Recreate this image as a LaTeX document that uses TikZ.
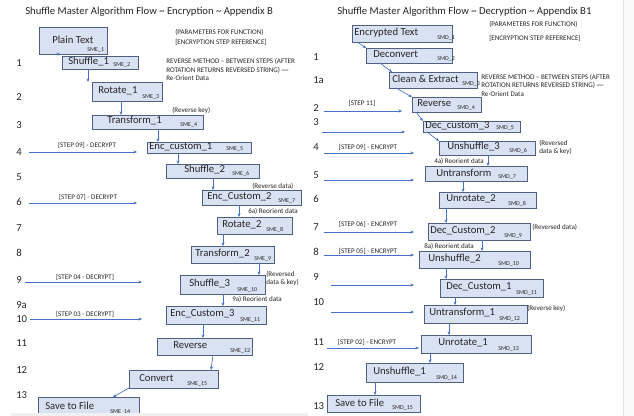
\documentclass[tikz,border=0pt]{standalone}
\usepackage{fontspec}
\setmainfont{Carlito}
\usetikzlibrary{arrows.meta}
\definecolor{boxfill}{HTML}{D9E2F3}
\definecolor{boxdraw}{HTML}{4F6080}
\definecolor{arrowc}{HTML}{4472C4}
\definecolor{txt}{HTML}{262626}
\newcommand\mybox[9]{%
  \node[box, minimum width=#4*0.75pt, minimum height=#5*0.75pt, anchor=north west] (#1) at (#2,#3) {};
  \node[lbl, anchor=west] (#1l) at (#7, #3+#5/2-1) {#6};
  \node[tag, anchor=base west] (#1t) at (#9, #3+#5-2.5) {#8};
}
\begin{document}
\begin{tikzpicture}[x=0.75pt,y=-0.75pt,
  box/.style={draw=boxdraw, fill=boxfill, line width=0.7pt, inner sep=0pt, outer sep=0pt},
  lbl/.style={inner sep=0pt, font=\fontsize{8}{9.6}\selectfont, text=txt},
  tag/.style={inner sep=0pt, font=\fontsize{4.5}{5}\selectfont, text=txt},
  note/.style={inner sep=0pt, font=\fontsize{5.3}{6.4}\selectfont, text=txt, align=left, anchor=west},
  slbl/.style={inner sep=0pt, font=\fontsize{5.3}{6.4}\selectfont, text=txt},
  num/.style={inner sep=0pt, font=\fontsize{8}{9.6}\selectfont, text=txt, anchor=west},
  ttl/.style={inner sep=0pt, font=\fontsize{8}{9.6}\selectfont, text=txt, anchor=west},
  arr/.style={draw=arrowc, line width=0.5pt, -{Stealth[length=2.6pt,width=2.2pt]}},
]
\useasboundingbox (0,0) rectangle (634,416);
\fill[white] (0,0) rectangle (634,416);

% titles
\node[ttl] (titleL) at (25,12) {Shuffle Master Algorithm Flow \textasciitilde{} Encryption \textasciitilde{} Appendix B};
\node[ttl] (titleR) at (337,12) {Shuffle Master Algorithm Flow \textasciitilde{} Decryption \textasciitilde{} Appendix B1};

% ---------------- left: encryption ----------------
\mybox{pt}{39}{27}{68}{27}{Plain Text}{52}{SME\_1}{87}
\mybox{s1}{62}{56}{76}{13}{Shuffle\_1}{68}{SME\_2}{113}
\mybox{r1}{92}{82}{70}{19}{Rotate\_1}{98}{SME\_3}{142}
\mybox{t1}{92}{115}{111}{14}{Transform\_1}{107}{SME\_4}{180}
\mybox{e1}{147}{142}{104}{11}{Enc\_custom\_1}{149}{SME\_5}{226}
\mybox{s2}{166}{164}{93}{14}{Shuffle\_2}{184}{SME\_6}{232}
\mybox{e2}{202}{190}{99}{15}{Enc\_Custom\_2}{207}{SME\_7}{278}
\mybox{r2}{217}{217}{75}{17}{Rotate\_2}{222}{SME\_8}{266}
\mybox{t2}{191}{246}{83}{17}{Transform\_2}{195}{SME\_9}{254}
\mybox{s3}{180}{275}{85}{19}{Shuffle\_3}{189}{SME\_10}{237}
\mybox{e3}{166}{306}{100}{18}{Enc\_Custom\_3}{170}{SME\_11}{240}
\mybox{rv}{157}{338}{95}{17}{Reverse}{173}{SME\_12}{230}
\mybox{cv}{129}{370}{89}{18}{Convert}{139}{SME\_15}{187}
\mybox{sf}{38}{397}{101}{19}{Save to File}{45}{SME\_14}{110}

\draw[arr] (pt.south -| 58,0) -- (s1.north -| 58,0);
\draw[arr] (s1.south -| 88,0) -- (r1.north -| 88,0);
\draw[arr] (r1.south -| 121,0) -- (t1.north -| 121,0);
\draw[arr] (t1.south -| 158,0) -- (e1.north -| 158,0);
\draw[arr] (e1.south -| 178,0) -- (s2.north -| 178,0);
\draw[arr] (s2.south -| 213,0) -- (e2.north -| 213,0);
\draw[arr] (e2.south -| 239,0) -- (r2.north -| 239,0);
\draw[arr] (r2.south -| 223,0) -- (t2.north -| 223,0);
\draw[arr] (t2.south -| 259,0) -- (s3.north -| 259,0);
\draw[arr] (s3.south -| 223,0) -- (e3.north -| 223,0);
\draw[arr] (e3.south -| 203,0) -- (rv.north -| 203,0);
\draw[arr] (rv.south -| 213,0) -- (cv.north -| 211,0);
\draw[arr] (cv.south west) -- (sf.north -| 113,0);

% step numbers left
\node[num] (nl1) at (16,63) {1};
\node[num] (nl2) at (16,97) {2};
\node[num] (nl3) at (16,125) {3};
\node[num] (nl4) at (16,152) {4};
\node[num] (nl5) at (16,177) {5};
\node[num] (nl6) at (16,202) {6};
\node[num] (nl7) at (16,228) {7};
\node[num] (nl8) at (16,253) {8};
\node[num] (nl9) at (16,280) {9};
\node[num] (nl9a) at (16,305) {9a};
\node[num] (nl10) at (16,319) {10};
\node[num] (nl11) at (16,343) {11};
\node[num] (nl12) at (16,370) {12};
\node[num] (nl13) at (16,395) {13};

% left incoming arrows
\coordinate (la4s) at (29,152);  \coordinate (la4e) at (137,152);
\coordinate (la6s) at (29,203);  \coordinate (la6e) at (137,203);
\coordinate (la9s) at (25,282);  \coordinate (la9e) at (142,282);
\coordinate (la10s) at (30,319); \coordinate (la10e) at (142,319);
\draw[arr] (la4s) -- (la4e);
\draw[arr] (la6s) -- (la6e);
\draw[arr] (la9s) -- (la9e);
\draw[arr] (la10s) -- (la10e);
\node[slbl] (ls4) at (87,145) {[STEP 09] - DECRYPT};
\node[slbl] (ls6) at (88,197) {[STEP 07] - DECRYPT};
\node[slbl] (ls9) at (85,277) {[STEP 04 - DECRYPT]};
\node[slbl] (ls10) at (85,314) {[STEP 03 - DECRYPT]};

% left notes
\node[note] (lp1) at (175,32) {(PARAMETERS FOR FUNCTION)};
\node[note] (lp2) at (175,42) {[ENCRYPTION STEP REFERENCE]};
\node[note] (lrm) at (166,69.5) {REVERSE METHOD -- BETWEEN STEPS (AFTER\\ROTATION RETURNS REVERSED STRING) \textasciitilde\textasciitilde\\Re-Orient Data};
\node[note] (lrk) at (172,110) {(Reverse key)};
\node[note] (lrd) at (252,186) {(Reverse data)};
\node[note] (l6a) at (248,211) {6a) Reorient data};
\node[note] (lrdk) at (266,278.5) {(Reversed\\data \& key)};
\node[note] (l9a) at (232,299) {9a) Reorient data};

% ---------------- right: decryption ----------------
\mybox{et}{352}{25}{100}{17}{Encrypted Text}{354}{SMD\_1}{437}
\mybox{dc}{366}{48}{86}{15}{Deconvert}{373}{SMD\_2}{437}
\mybox{ce}{389}{72}{88}{16}{Clean \& Extract}{392}{SMD\_3}{462}
\mybox{rvd}{412}{97}{69}{15}{Reverse}{417}{SMD\_4}{457}
\mybox{dcc}{423}{121}{97}{11}{Dec\_custom\_3}{425}{SMD\_5}{496}
\mybox{us3}{439}{141}{96}{14}{Unshuffle\_3}{447}{SMD\_6}{509}
\mybox{ut}{425}{166}{102}{15}{Untransform}{436}{SMD\_7}{498}
\mybox{urb}{439}{192}{97}{16}{Unrotate\_2}{446}{SMD\_8}{508}
\mybox{dcb}{428}{223}{102}{17}{Dec\_Custom\_2}{430}{SMD\_9}{504}
\mybox{usb}{419}{251}{111}{17}{Unshuffle\_2}{428}{SMD\_10}{498}
\mybox{dca}{440}{279}{103}{18}{Dec\_Custom\_1}{446}{SMD\_11}{516}
\mybox{uta}{424}{305}{103}{18}{Untransform\_1}{429}{SMD\_12}{499}
\mybox{ura}{421}{335}{110}{18}{Unrotate\_1}{438}{SMD\_13}{498}
\mybox{usa}{366}{363}{97}{19}{Unshuffle\_1}{373}{SMD\_14}{436}
\mybox{sfd}{327}{395}{93}{17}{Save to File}{335}{SMD\_15}{392}

\draw[arr] (et.south -| 357,0) -- (dc.north west);
\draw[arr] (dc.south -| 380,0) -- (ce.north -| 392,0);
\draw[arr] (ce.south -| 396,0) -- (rvd.north west);
\draw[arr] (rvd.south -| 416,0) -- (dcc.north west);
\draw[arr] (dcc.south -| 427,0) -- (us3.north west);
\draw[arr] (us3.south -| 488,0) -- (ut.north -| 488,0);
\draw[arr] (ut.south -| 463,0) -- (urb.north -| 463,0);
\draw[arr] (urb.south -| 446,0) -- (dcb.north -| 446,0);
\draw[arr] (dcb.south -| 482,0) -- (usb.north -| 482,0);
\draw[arr] (usb.south -| 446,0) -- (dca.north -| 446,0);
\draw[arr] (dca.south -| 455,0) -- (uta.north -| 455,0);
\draw[arr] (uta.south -| 449,0) -- (ura.north -| 449,0);
\draw[arr] (ura.south -| 430,0) -- (usa.north -| 430,0);
\draw[arr] (usa.south -| 375,0) -- (sfd.north -| 375,0);

% step numbers right
\node[num] (nr1) at (313,57) {1};
\node[num] (nr1a) at (313,80) {1a};
\node[num] (nr2) at (313,108) {2};
\node[num] (nr3) at (313,122) {3};
\node[num] (nr4) at (313,147) {4};
\node[num] (nr5) at (313,175) {5};
\node[num] (nr6) at (313,199) {6};
\node[num] (nr7) at (313,227) {7};
\node[num] (nr8) at (313,252) {8};
\node[num] (nr9) at (313,277) {9};
\node[num] (nr10) at (313,302) {10};
\node[num] (nr11) at (313,342) {11};
\node[num] (nr12) at (313,367) {12};
\node[num] (nr13) at (313,406) {13};

% right incoming arrows
\coordinate (ra2s) at (324,111);  \coordinate (ra2e) at (402,111);
\coordinate (ra3s) at (322,132);  \coordinate (ra3e) at (405,132);
\coordinate (ra4s) at (324,153);  \coordinate (ra4e) at (414,153);
\coordinate (ra5s) at (324,180);  \coordinate (ra5e) at (414,180);
\coordinate (ra7s) at (324,232);  \coordinate (ra7e) at (414,232);
\coordinate (ra8s) at (324,255);  \coordinate (ra8e) at (414,255);
\coordinate (ra9s) at (331,285);  \coordinate (ra9e) at (414,285);
\coordinate (ra10s) at (331,312); \coordinate (ra10e) at (414,312);
\coordinate (ra11s) at (327,348); \coordinate (ra11e) at (419,348);
\foreach \k in {2,3,4,5,7,8,9,10,11} {\draw[arr] (ra\k s) -- (ra\k e);}
\node[slbl] (rs2) at (362,103) {[STEP 11]};
\node[slbl] (rs4) at (368,147) {[STEP 09] - ENCRYPT};
\node[slbl] (rs7) at (368,224) {[STEP 06] - ENCRYPT};
\node[slbl] (rs8) at (368,251) {[STEP 05] - ENCRYPT};
\node[slbl] (rs11) at (367,342) {[STEP 02] - ENCRYPT};

% right notes
\node[note] (rp1) at (489,24) {(PARAMETERS FOR FUNCTION)};
\node[note] (rp2) at (489,38) {[ENCRYPTION STEP REFERENCE]};
\node[note] (rrm) at (481,85) {REVERSE METHOD -- BETWEEN STEPS (AFTER\\ROTATION RETURNS REVERSED STRING) \textasciitilde\textasciitilde\\Re-Orient Data};
\node[note] (rrdk) at (539,147.5) {(Reversed\\data \& key)};
\node[note] (r4a) at (434,161) {4a) Reorient data};
\node[note] (rrd) at (532,227) {(Reversed data)};
\node[note] (r8a) at (424,246) {8a) Reorient data};
\node[note] (rrk) at (527,308) {(Reverse key)};

% faint page edges
\fill[black!6] (11,413) rectangle (308,416);
\fill[black!2] (623,0) rectangle (634,416);
\draw[black!10, line width=0.4pt] (623,0) -- (623,416);
\end{tikzpicture}
\end{document}
